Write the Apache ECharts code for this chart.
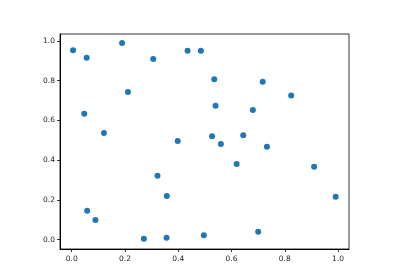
<!DOCTYPE html>
<html><head><meta charset="utf-8">
<script src="https://cdn.jsdelivr.net/npm/echarts@6/dist/echarts.min.js"></script>
<style>html,body{margin:0;padding:0;background:#fff}#c{width:400px;height:280px}</style>
</head><body><div id="c"></div>
<script>
const xValues = [0.005,0.056,0.189,0.306,0.435,0.485,0.211,0.047,0.121,0.398,0.527,0.535,0.717,0.824,0.540,0.680,0.644,0.560,0.733,0.322,0.357,0.058,0.089,0.271,0.356,0.496,0.619,0.910,0.991,0.700];
const yValues = [0.953,0.916,0.990,0.909,0.951,0.951,0.743,0.634,0.537,0.497,0.520,0.807,0.795,0.725,0.674,0.653,0.525,0.482,0.468,0.322,0.220,0.146,0.099,0.004,0.009,0.022,0.381,0.367,0.216,0.040];
const xTicks = [0,0.2,0.4,0.6,0.8,1.0];
const yTicks = [0,0.2,0.4,0.6,0.8,1.0];

const chart = echarts.init(document.getElementById('c'), null, {renderer:'canvas'});
const fmt = v => Number(v).toFixed(1);
const axisCommon = {
  axisLine:{show:true,onZero:false,lineStyle:{color:'#000',width:1}},
  splitLine:{show:false},
  axisLabel:{color:'#222',fontFamily:'DejaVu Sans',fontSize:7.5,formatter:fmt},
  axisTick:{show:true,length:3,lineStyle:{color:'#000',width:0.8}}
};
chart.setOption({
  animation:false,
  grid:{left:60,right:51,top:34,bottom:31,show:true,borderColor:'#000',borderWidth:0.8,containLabel:false},
  xAxis:Object.assign({}, axisCommon, {
    type:'value',min:-0.044,max:1.041,
    axisLabel:Object.assign({}, axisCommon.axisLabel,{customValues:xTicks,margin:6}),
    axisTick:Object.assign({}, axisCommon.axisTick,{customValues:xTicks})
  }),
  yAxis:Object.assign({}, axisCommon, {
    type:'value',min:-0.047,max:1.035,
    axisLabel:Object.assign({}, axisCommon.axisLabel,{customValues:yTicks,margin:5}),
    axisTick:Object.assign({}, axisCommon.axisTick,{customValues:yTicks})
  }),
  series:[{
    type:'scatter',
    symbolSize:6,
    itemStyle:{color:'#1f77b4',opacity:1},
    data:xValues.map((x,i)=>[x,yValues[i]])
  }]
});
</script></body></html>
